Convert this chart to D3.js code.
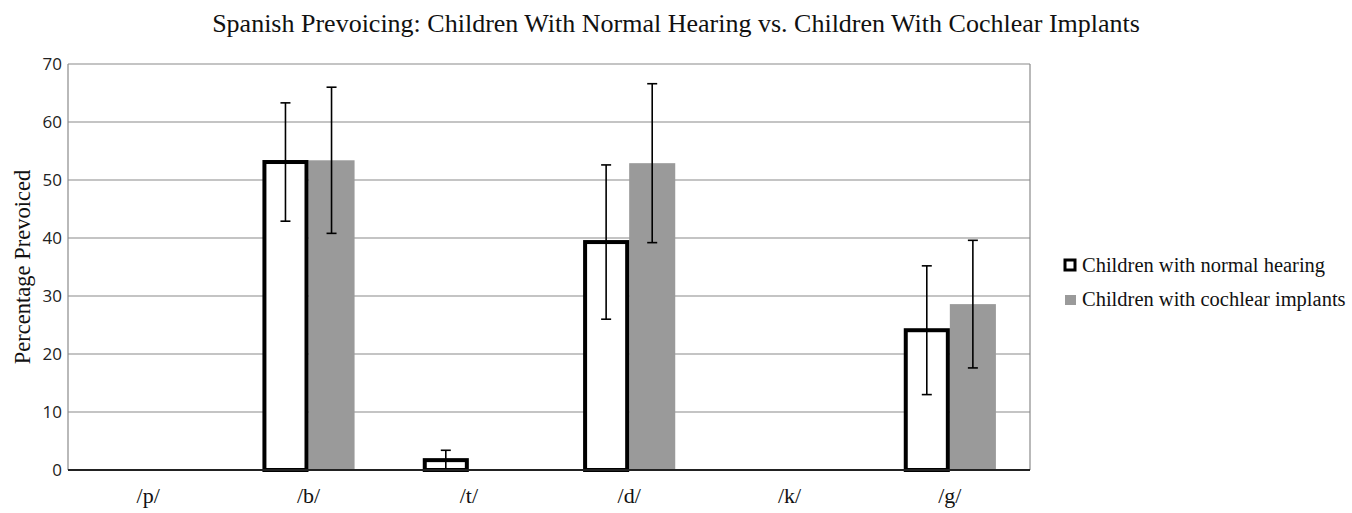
<!DOCTYPE html>
<html><head><meta charset="utf-8">
<script src="https://cdn.jsdelivr.net/npm/d3@7"></script>
<style>body{margin:0;background:#fff}svg{display:block}</style>
</head><body>
<svg id="c" width="1352" height="513"></svg>
<script>
const categories = ["/p/", "/b/", "/t/", "/d/", "/k/", "/g/"];
const seriesNames = ["Children with normal hearing", "Children with cochlear implants"];
const normalValues = [0, 53.1, 1.7, 39.3, 0, 24.1];
const normalErr = [null, 10.2, 1.7, 13.3, null, 11.1];
const implantValues = [0, 53.4, 0, 52.9, 0, 28.6];
const implantErr = [null, 12.6, null, 13.7, null, 11.0];
const yTicks = [0, 10, 20, 30, 40, 50, 60, 70];
const title = "Spanish Prevoicing: Children With Normal Hearing vs. Children With Cochlear Implants";
const yLabel = "Percentage Prevoiced";

const serif = "Liberation Serif, Times New Roman, serif";
const svg = d3.select("#c");
const m = {l: 68, r: 1030, t: 64, b: 470};
const x0 = d3.scaleBand().domain(categories).range([m.l, m.r]);
const x1 = d3.scaleBand().domain([0, 1]).range([0, x0.bandwidth()]).paddingOuter(0.74).paddingInner(0);
const y = d3.scaleLinear().domain([0, 70]).range([m.b, m.t]);

// gridlines
svg.append("g").selectAll("line").data(yTicks.filter(d => d > 0)).join("line")
  .attr("x1", m.l).attr("x2", m.r).attr("y1", d => y(d)).attr("y2", d => y(d))
  .attr("stroke", "#8a8a8a").attr("stroke-width", 1.2);
// side borders
svg.append("line").attr("x1", m.l).attr("x2", m.l).attr("y1", m.t).attr("y2", m.b).attr("stroke", "#8a8a8a").attr("stroke-width", 1.2);
svg.append("line").attr("x1", m.r).attr("x2", m.r).attr("y1", m.t).attr("y2", m.b).attr("stroke", "#8a8a8a").attr("stroke-width", 1.2);

// y axis
const yAxis = d3.axisLeft(y).tickValues(yTicks).tickSize(0).tickPadding(6);
const gy = svg.append("g").attr("transform", `translate(${m.l},0)`).call(yAxis);
gy.select(".domain").remove();
gy.selectAll("text").attr("font-family", "Open Sans, sans-serif").attr("font-size", 17).attr("fill", "#222");

const data = categories.map((c, i) => ({c, i}));
const groups = svg.append("g").selectAll("g").data(data).join("g")
  .attr("transform", d => `translate(${x0(d.c)},0)`);

// implant bars
groups.filter(d => implantValues[d.i] > 0).append("rect")
  .attr("x", x1(1)).attr("width", x1.bandwidth())
  .attr("y", d => y(implantValues[d.i])).attr("height", d => y(0) - y(implantValues[d.i]))
  .attr("fill", "#9a9a9a");
// normal bars
groups.filter(d => normalValues[d.i] > 0).append("rect")
  .attr("x", x1(0) + 2).attr("width", x1.bandwidth() - 4)
  .attr("y", d => y(normalValues[d.i])).attr("height", d => y(0) - y(normalValues[d.i]))
  .attr("fill", "#fff").attr("stroke", "#000").attr("stroke-width", 4);

// zero axis line
svg.append("line").attr("x1", m.l).attr("x2", m.r).attr("y1", y(0)).attr("y2", y(0)).attr("stroke", "#222").attr("stroke-width", 2);

// error bars
function errBars(vals, errs, k) {
  const g = groups.filter(d => errs[d.i] != null).append("g")
    .attr("transform", `translate(${x1(k) + x1.bandwidth() / 2},0)`)
    .attr("stroke", "#000").attr("stroke-width", 1.6);
  g.append("line").attr("x1", 0).attr("x2", 0)
    .attr("y1", d => y(vals[d.i] + errs[d.i])).attr("y2", d => y(Math.max(0, vals[d.i] - errs[d.i])));
  g.append("line").attr("x1", -5).attr("x2", 5)
    .attr("y1", d => y(vals[d.i] + errs[d.i])).attr("y2", d => y(vals[d.i] + errs[d.i]));
  g.filter(d => vals[d.i] - errs[d.i] > 0.01).append("line").attr("x1", -5).attr("x2", 5)
    .attr("y1", d => y(vals[d.i] - errs[d.i])).attr("y2", d => y(vals[d.i] - errs[d.i]));
}
errBars(normalValues, normalErr, 0);
errBars(implantValues, implantErr, 1);

// x labels
const xAxis = d3.axisBottom(x0).tickSize(0).tickPadding(17);
const gx = svg.append("g").attr("transform", `translate(0,${m.b})`).call(xAxis);
gx.select(".domain").remove();
gx.selectAll("text").attr("font-family", serif).attr("font-size", 22).attr("fill", "#111");

// title
svg.append("text").attr("x", 676).attr("y", 32).attr("text-anchor", "middle")
  .attr("font-family", serif).attr("font-size", 26).attr("fill", "#111").text(title);
// y label
svg.append("text").attr("transform", `translate(30,${(m.t + m.b) / 2}) rotate(-90)`).attr("text-anchor", "middle")
  .attr("font-family", serif).attr("font-size", 22.5).attr("fill", "#111").text(yLabel);

// legend
const lg = svg.append("g");
lg.append("rect").attr("x", 1065).attr("y", 260).attr("width", 10).attr("height", 10)
  .attr("fill", "#fff").attr("stroke", "#000").attr("stroke-width", 3);
lg.append("rect").attr("x", 1065).attr("y", 295).attr("width", 11).attr("height", 10).attr("fill", "#9a9a9a");
lg.selectAll("text").data(seriesNames).join("text")
  .attr("x", 1082).attr("y", (d, i) => 272 + i * 34)
  .attr("font-family", serif).attr("font-size", 20.5).attr("fill", "#111").text(d => d);
</script>
</body></html>
